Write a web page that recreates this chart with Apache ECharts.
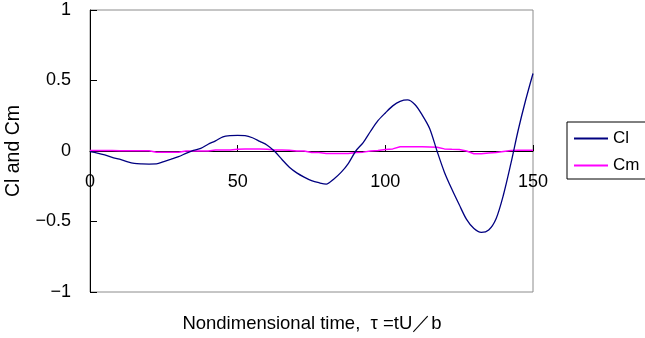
<!DOCTYPE html>
<html>
<head>
<meta charset="utf-8">
<script src="https://cdn.jsdelivr.net/npm/echarts@6/dist/echarts.min.js"></script>
<style>
  html, body { margin: 0; padding: 0; background: #fff; }
  #chart { width: 645px; height: 338px; }
</style>
</head>
<body>
<div id="chart"></div>
<script>
// nondimensional time, step 2.5
const tau = [];
for (let i = 0; i <= 60; i++) tau.push(i * 2.5);

const clValues = [
  -0.005, -0.015, -0.028, -0.045, -0.058, -0.075, -0.088, -0.092, -0.093, -0.092,
  -0.075, -0.058, -0.040, -0.017, 0.004, 0.018, 0.048, 0.072, 0.100, 0.109,
  0.111, 0.109, 0.094, 0.068, 0.041, -0.002, -0.060, -0.115, -0.155, -0.185,
  -0.210, -0.225, -0.235, -0.200, -0.152, -0.087, 0.000, 0.060, 0.140, 0.215,
  0.270, 0.320, 0.352, 0.362, 0.330, 0.255, 0.160, 0.000, -0.150, -0.270,
  -0.380, -0.485, -0.550, -0.577, -0.560, -0.480, -0.310, -0.090, 0.149, 0.360,
  0.550
];

const cmValues = [
  0.003, 0.003, 0.003, 0.003, 0.002, 0.002, 0.002, 0.002, 0.002, -0.009,
  -0.009, -0.009, -0.009, 0.000, 0.000, 0.000, 0.000, 0.007, 0.007, 0.007,
  0.013, 0.014, 0.014, 0.014, 0.013, 0.007, 0.007, 0.005, 0.000, 0.000,
  -0.010, -0.010, -0.018, -0.018, -0.018, -0.018, -0.010, -0.008, 0.000, 0.003,
  0.010, 0.015, 0.030, 0.030, 0.030, 0.030, 0.028, 0.026, 0.015, 0.012,
  0.010, 0.000, -0.020, -0.020, -0.015, -0.010, -0.003, 0.003, 0.005, 0.005,
  0.006
];

const seriesNames = ["Cl", "Cm"];
const xTitle = "Nondimensional time,  τ =tU／b";
const yTitle = "Cl and Cm";

const font = "Liberation Sans, Arial, sans-serif";

// plot box in px, x axis drawn on the y = 0 line (middle of the box)
const plotTop = 10;
const plotBottom = 46;
const plotHeight = 338 - plotTop - plotBottom;

function pairs(xs, ys) {
  return xs.map((x, i) => [x, ys[i]]);
}

const chart = echarts.init(document.getElementById("chart"));
const option = {
  backgroundColor: "#fff",
  animation: false,
  textStyle: { fontFamily: font },
  grid: {
    left: 90,
    right: 112,
    top: plotTop,
    bottom: plotBottom,
    outerBoundsMode: "none",
    containLabel: false,
    show: true,
    borderColor: "#8c8c8c",
    borderWidth: 1,
    backgroundColor: "transparent",
  },
  legend: {
    data: seriesNames,
    orient: "vertical",
    left: 567,
    top: 122,
    padding: [8, 40, 5, 7],
    itemWidth: 34,
    itemHeight: 2,
    itemGap: 10,
    icon: "rect",
    borderColor: "#000",
    borderWidth: 1,
    borderRadius: 0,
    textStyle: { fontSize: 17, color: "#000", lineHeight: 17, fontFamily: font },
  },
  xAxis: {
    type: "value",
    min: 0,
    max: 150,
    interval: 50,
    offset: -plotHeight / 2,
    axisLine: { onZero: false, lineStyle: { color: "#000", width: 1 } },
    axisTick: { inside: true, length: 6, lineStyle: { color: "#000" } },
    axisLabel: { margin: 22, fontSize: 18, color: "#000", showMinLabel: true, showMaxLabel: true },
    splitLine: { show: false },
  },
  yAxis: {
    type: "value",
    min: -1,
    max: 1,
    interval: 0.5,
    name: yTitle,
    nameLocation: "middle",
    nameGap: 66,
    nameTextStyle: { fontSize: 19.5, color: "#000" },
    axisLine: { show: true, lineStyle: { color: "#000", width: 1 } },
    axisTick: { show: true, inside: true, length: 7, lineStyle: { color: "#000" } },
    axisLabel: {
      margin: 19,
      fontSize: 18,
      color: "#000",
      formatter: (v) => String(v).replace("-", "\u2212"),
    },
    splitLine: { show: false },
  },
  graphic: [
    {
      type: "text",
      x: 312,
      y: 324,
      style: {
        text: xTitle,
        fontSize: 18.5,
        fill: "#000",
        fontFamily: font,
        textAlign: "center",
        textVerticalAlign: "middle",
      },
    },
  ],
  series: [
    {
      name: seriesNames[0],
      type: "line",
      data: pairs(tau, clValues),
      symbol: "none",
      smooth: 0.3,
      lineStyle: { color: "#000080", width: 1.3 },
      itemStyle: { color: "#000080" },
      z: 3,
    },
    {
      name: seriesNames[1],
      type: "line",
      data: pairs(tau, cmValues),
      symbol: "none",
      lineStyle: { color: "#ff00ff", width: 1.5 },
      itemStyle: { color: "#ff00ff" },
      z: 2,
    },
  ],
};
chart.setOption(option);
</script>
</body>
</html>
